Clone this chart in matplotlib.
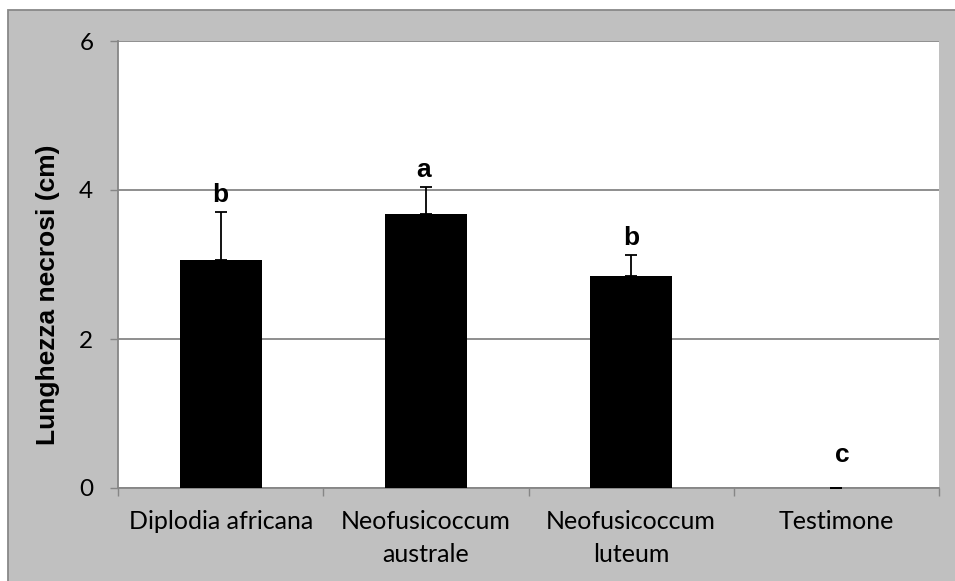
import matplotlib
matplotlib.use("Agg")
import matplotlib.pyplot as plt
from matplotlib.patches import Rectangle

# Data: mean necrosis length (cm) with standard deviation, and significance letters
categories = ["Diplodia africana", "Neofusicoccum\naustrale", "Neofusicoccum\nluteum", "Testimone"]
means = [3.06, 3.68, 2.84, 0.0]
errors = [0.65, 0.36, 0.29, 0.0]
letters = ["b", "a", "b", "c"]
yticks = [0, 2, 4, 6]

W, H, DPI = 955, 581, 100
fig = plt.figure(figsize=(W / DPI, H / DPI), dpi=DPI)
fig.patch.set_facecolor("white")

# Grey chart frame (its right and bottom edges run past the canvas)
frame = Rectangle((8 / W, -0.1), 1.2, 1.1 - 10 / H, transform=fig.transFigure,
                  facecolor="#C0C0C0", edgecolor="#888888", linewidth=1.3, zorder=0)
fig.patches.append(frame)

left, right, top, bottom = 118, 939, 41, 488
ax = fig.add_axes([left / W, (H - bottom) / H, (right - left) / W, (bottom - top) / H])
ax.set_facecolor("white")
ax.set_zorder(1)

grid_c = "#868686"
xs = [i + 0.5 for i in range(len(categories))]
ax.bar(xs, means, width=0.4, color="black", zorder=3)
ax.errorbar(xs, means, yerr=[[0] * len(errors), errors], fmt="none",
            ecolor="black", elinewidth=1.3, capsize=4.3, capthick=1.3, zorder=4)

# Significance letters above the bars
letter_off = [7, 7, 7, 19]  # points above the error bar top
letter_dx = [0, -1.5, 0, 4.5]
for x, m, e, lab, off, dx in zip(xs, means, errors, letters, letter_off, letter_dx):
    ax.annotate(lab, (x, m + e), xytext=(dx, off), textcoords="offset points",
                ha="center", va="baseline", fontsize=19, fontweight="bold",
                family="Liberation Sans", zorder=5)

ax.set_xlim(0, 4)
ax.set_ylim(0, 6)
ax.set_yticks(yticks)
ax.set_yticklabels([str(v) for v in yticks], family="Lato", fontsize=17.5)
ax.yaxis.grid(True, color=grid_c, linewidth=1.3, zorder=1)
ax.set_axisbelow(True)

ax.set_xticks(range(5))
ax.set_xticklabels([])
ax.set_xticks(xs, minor=True)
ax.set_xticklabels(categories, minor=True, family="Lato", fontsize=18, linespacing=1.5)
ax.tick_params(axis="x", which="major", direction="out", length=5.8, width=1, color=grid_c)
ax.tick_params(axis="x", which="minor", length=0, pad=16)
ax.tick_params(axis="y", direction="out", length=5.8, width=1, color=grid_c, pad=12)

for s in ["top", "right"]:
    ax.spines[s].set_visible(False)
for s in ["left", "bottom"]:
    ax.spines[s].set_color(grid_c)
    ax.spines[s].set_linewidth(1.3)

fig.text(48 / W, 1 - 295 / H, "Lunghezza necrosi (cm)", rotation=90,
         ha="center", va="center", fontsize=19, fontweight="bold", family="Liberation Sans")

fig.savefig("out.png", dpi=DPI)
